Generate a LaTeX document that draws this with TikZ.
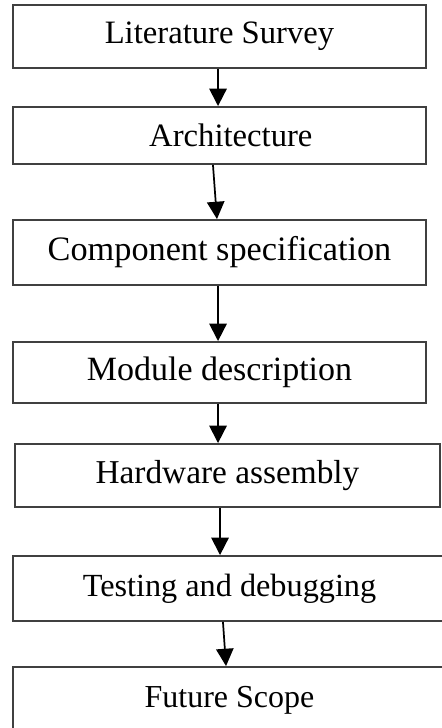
\documentclass[tikz,border=0pt]{standalone}
\usepackage{fontspec}
\setmainfont{Liberation Serif}
\usetikzlibrary{arrows.meta}

\begin{document}
\begin{tikzpicture}[x=0.75pt,y=-0.75pt,
  stagebox/.style={draw=black!75,line width=1.4pt,minimum width=309.75pt,inner sep=0pt,
    font=\fontsize{#1}{29}\selectfont},
  stagebox/.default=24.5,
  flow/.style={line width=1.3pt,-{Triangle[length=13pt,width=13pt]}}]
\useasboundingbox (0,0) rectangle (442,728);

\node[stagebox,minimum height=47.25pt] (lit) at (219.5,36.5) {Literature Survey};
\node[stagebox,minimum height=42.75pt] (arch) at (219.5,135.5) {\hspace*{17pt}Architecture};
\node[stagebox=25.7,minimum height=48.75pt] (comp) at (219.5,252.5) {Component specification};
\node[stagebox=25.5,minimum height=45.75pt] (mod) at (219.5,372.5) {Module description};
\node[stagebox=25,minimum height=47.25pt,minimum width=318.75pt] (hw) at (227.5,475.5) {Hardware assembly};
\node[stagebox=24.2,minimum height=48.75pt,minimum width=324.75pt] (test) at (229.5,588.5) {Testing and debugging};
\node[stagebox=24,minimum height=49.5pt,minimum width=324.75pt] (fut) at (229.5,700) {Future Scope};

\draw[flow] ([xshift=-1.1pt]lit.south) -- ([xshift=-1.1pt]arch.north);
\draw[flow] ([xshift=-4.9pt]arch.south) -- ([xshift=-1.9pt]comp.north);
\draw[flow] ([xshift=-1.1pt]comp.south) -- ([xshift=-1.1pt]mod.north);
\draw[flow] ([xshift=-1.1pt]mod.south) -- ([xshift=-7.1pt]hw.north);
\draw[flow] ([xshift=-5.6pt]hw.south) -- ([xshift=-7.1pt]test.north);
\draw[flow] ([xshift=-4.9pt]test.south) -- ([xshift=-2.6pt]fut.north);

\end{tikzpicture}
\end{document}
